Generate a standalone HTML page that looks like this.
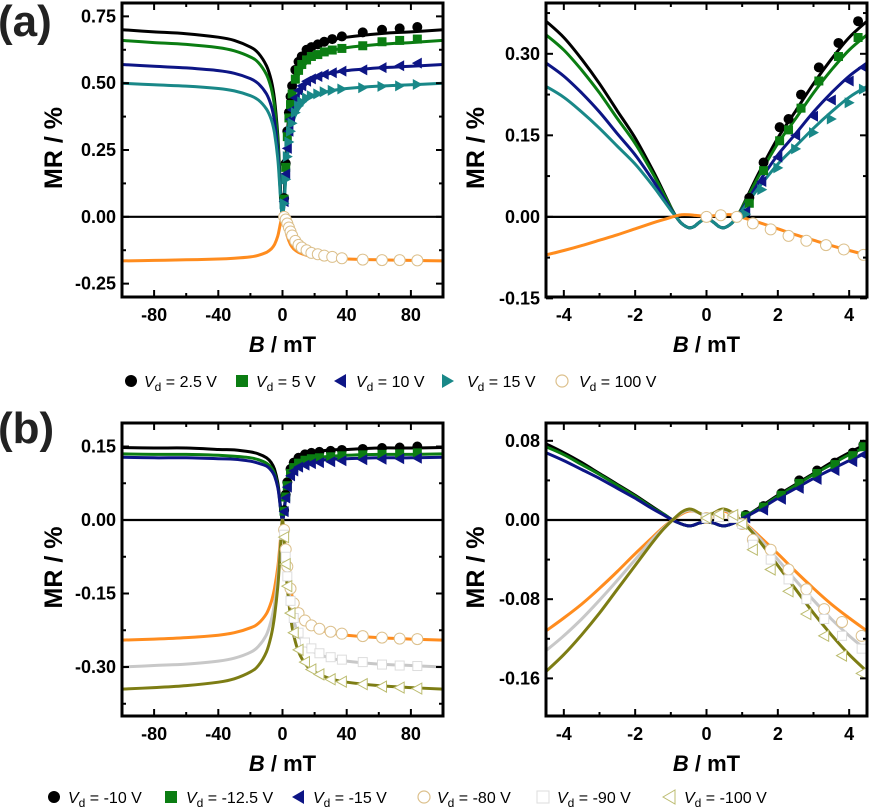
<!DOCTYPE html>
<html><head><meta charset="utf-8"><style>
html,body{margin:0;padding:0;background:#fff;}
svg{display:block;font-family:"Liberation Sans",Arial,sans-serif;}
</style></head><body>
<svg id="fig" width="879" height="809" viewBox="0 0 879 809" xmlns="http://www.w3.org/2000/svg">
<text x="-2" y="36" font-size="44" font-weight="bold" fill="#222">(a)</text>
<text x="-2" y="443" font-size="44" font-weight="bold" fill="#222">(b)</text>
<g id="legA" font-size="16">
 <circle cx="131" cy="381" r="6" fill="#000"/>
 <text x="144" y="387"><tspan font-style="italic">V</tspan><tspan font-size="12" dy="4">d</tspan><tspan dy="-4"> = 2.5 V</tspan></text>
 <rect x="236" y="375" width="12" height="12" fill="#0b7d12"/>
 <text x="256" y="387"><tspan font-style="italic">V</tspan><tspan font-size="12" dy="4">d</tspan><tspan dy="-4"> = 5 V</tspan></text>
 <polygon points="334,381 346,374 346,388" fill="#0d1585"/>
 <text x="356" y="387"><tspan font-style="italic">V</tspan><tspan font-size="12" dy="4">d</tspan><tspan dy="-4"> = 10 V</tspan></text>
 <polygon points="454,381 442,374 442,388" fill="#198888"/>
 <text x="467" y="387"><tspan font-style="italic">V</tspan><tspan font-size="12" dy="4">d</tspan><tspan dy="-4"> = 15 V</tspan></text>
 <circle cx="562" cy="381" r="6" fill="#fff" stroke="#dcc08c" stroke-width="1.2"/>
 <text x="579" y="387"><tspan font-style="italic">V</tspan><tspan font-size="12" dy="4">d</tspan><tspan dy="-4"> = 100 V</tspan></text>
</g>
<g id="legB" font-size="16">
 <circle cx="54" cy="797" r="6" fill="#000"/>
 <text x="68" y="803"><tspan font-style="italic">V</tspan><tspan font-size="12" dy="4">d</tspan><tspan dy="-4"> =  -10 V</tspan></text>
 <rect x="165" y="791" width="12" height="12" fill="#0b7d12"/>
 <text x="186" y="803"><tspan font-style="italic">V</tspan><tspan font-size="12" dy="4">d</tspan><tspan dy="-4"> = -12.5 V</tspan></text>
 <polygon points="292,797 304,790 304,804" fill="#0d1585"/>
 <text x="313" y="803"><tspan font-style="italic">V</tspan><tspan font-size="12" dy="4">d</tspan><tspan dy="-4"> = -15 V</tspan></text>
 <circle cx="424" cy="797" r="6" fill="#fff" stroke="#dcc08c" stroke-width="1.2"/>
 <text x="437" y="803"><tspan font-style="italic">V</tspan><tspan font-size="12" dy="4">d</tspan><tspan dy="-4"> = -80 V</tspan></text>
 <rect x="537" y="791" width="12" height="12" fill="#fff" stroke="#ddd"/>
 <text x="557" y="803"><tspan font-style="italic">V</tspan><tspan font-size="12" dy="4">d</tspan><tspan dy="-4"> = -90 V</tspan></text>
 <polygon points="663,797 675,790 675,804" fill="#fff" stroke="#bcbc70"/>
 <text x="684" y="803"><tspan font-style="italic">V</tspan><tspan font-size="12" dy="4">d</tspan><tspan dy="-4"> = -100 V</tspan></text>
</g>
</svg>
<script>
// ===== Panel a-left data =====
const aL_B = [-100,-80,-60,-40,-30,-20,-15,-10,-7,-5,-3,-2,-1,0];
const aL_black = [0.70,0.692,0.685,0.672,0.66,0.635,0.612,0.565,0.51,0.44,0.31,0.2,0.07,0];
const aL_green = [0.66,0.652,0.645,0.633,0.621,0.598,0.577,0.532,0.48,0.414,0.292,0.185,0.066,0];
const aL_blue = [0.57,0.563,0.557,0.547,0.537,0.517,0.498,0.46,0.415,0.358,0.252,0.16,0.057,0];
const aL_teal = [0.50,0.494,0.489,0.48,0.471,0.453,0.437,0.403,0.364,0.314,0.221,0.14,0.05,0];
const aL_orange = [-0.165,-0.163,-0.161,-0.158,-0.155,-0.15,-0.144,-0.133,-0.12,-0.104,-0.073,-0.046,-0.017,0];
const aL_mB = [1,2,3,4,5,6,8,10,12,15,18,22,26,31,37,50,62,73,84];
const aL_mBlack = [0.07,0.2,0.32,0.39,0.45,0.49,0.55,0.58,0.6,0.625,0.635,0.645,0.655,0.665,0.675,0.69,0.7,0.705,0.71];
const aL_mGreen = [0.066,0.185,0.3,0.37,0.42,0.46,0.515,0.548,0.57,0.587,0.6,0.607,0.617,0.624,0.63,0.64,0.655,0.66,0.665];
const aL_mBlue = [0.057,0.16,0.256,0.32,0.365,0.4,0.445,0.473,0.49,0.507,0.516,0.525,0.533,0.539,0.545,0.55,0.558,0.565,0.575];
const aL_mTeal = [0.05,0.14,0.225,0.28,0.32,0.35,0.39,0.415,0.43,0.445,0.453,0.46,0.468,0.473,0.478,0.483,0.488,0.49,0.495];
const aL_mOrange = [0.0,-0.01,-0.025,-0.04,-0.055,-0.07,-0.09,-0.105,-0.115,-0.125,-0.135,-0.14,-0.145,-0.15,-0.155,-0.16,-0.162,-0.162,-0.163];
// ===== Panel a-right data =====
const aR_B = [-4.5,-4,-3.5,-3,-2.5,-2,-1.5,-1.2,-1,-0.85,-0.7,-0.5,-0.35,-0.2,0];
const aR_black = [0.36,0.33,0.29,0.245,0.195,0.145,0.085,0.045,0.018,0,-0.012,-0.02,-0.018,-0.01,-0.003];
const aR_green = [0.335,0.307,0.27,0.228,0.181,0.135,0.079,0.042,0.017,0,-0.012,-0.02,-0.018,-0.01,-0.003];
const aR_blue = [0.283,0.259,0.228,0.193,0.153,0.114,0.067,0.035,0.014,0,-0.012,-0.02,-0.018,-0.01,-0.003];
const aR_teal = [0.24,0.22,0.193,0.163,0.13,0.097,0.057,0.03,0.012,0,-0.012,-0.02,-0.018,-0.01,-0.003];
const aR_orange = [-0.07,-0.062,-0.053,-0.043,-0.033,-0.022,-0.011,-0.005,-0.001,0.002,0.004,0.004,0.003,0.002,0.001];
const aR_mB1 = [1.2,1.6,2.05,2.3,2.65,3.15,3.7,4.25];
const aR_mBlack = [0.035,0.1,0.165,0.18,0.225,0.275,0.32,0.36];
const aR_mGreen = [0.025,0.085,0.14,0.16,0.2,0.25,0.295,0.33];
const aR_mB2 = [1.1,1.55,2.0,2.5,3.0,3.5,4.0,4.4];
const aR_mBlue = [0.01,0.065,0.11,0.15,0.185,0.215,0.25,0.275];
const aR_mTeal = [0.005,0.05,0.09,0.125,0.155,0.18,0.21,0.235];
const aR_mB3 = [0,0.4,0.85,1.3,1.8,2.3,2.8,3.35,3.85,4.4];
const aR_mOrange = [0,0.003,0,-0.012,-0.023,-0.035,-0.044,-0.052,-0.06,-0.07];
// ===== Panel b-left data =====
const bL_B = [-100,-80,-60,-40,-30,-20,-15,-10,-7,-5,-3,-2,-1,0];
const bL_black = [0.148,0.147,0.147,0.144,0.143,0.139,0.135,0.127,0.117,0.104,0.077,0.052,0.019,0];
const bL_green = [0.135,0.134,0.134,0.132,0.13,0.127,0.123,0.116,0.107,0.095,0.07,0.047,0.018,0];
const bL_blue = [0.128,0.127,0.127,0.125,0.124,0.12,0.116,0.11,0.101,0.09,0.067,0.045,0.017,0];
const bL_orange = [-0.245,-0.243,-0.24,-0.235,-0.23,-0.22,-0.211,-0.191,-0.167,-0.14,-0.098,-0.066,-0.029,0];
const bL_gray = [-0.30,-0.297,-0.294,-0.288,-0.282,-0.27,-0.258,-0.234,-0.204,-0.171,-0.12,-0.081,-0.036,0];
const bL_olive = [-0.345,-0.342,-0.338,-0.331,-0.324,-0.31,-0.297,-0.269,-0.235,-0.197,-0.138,-0.093,-0.041,0];
const bL_mB = [1,2,3,5,7,10,14,18,23,30,37,50,62,73,84];
const bL_mBlack = [0.02,0.052,0.077,0.104,0.117,0.127,0.134,0.137,0.139,0.141,0.143,0.145,0.147,0.148,0.15];
const bL_mGreen = [0.018,0.047,0.07,0.095,0.107,0.116,0.122,0.125,0.127,0.129,0.131,0.133,0.134,0.135,0.137];
const bL_mBlue = [0.017,0.045,0.067,0.09,0.1,0.108,0.112,0.115,0.117,0.119,0.121,0.123,0.124,0.125,0.126];
const bL_mOrange = [-0.02,-0.06,-0.095,-0.14,-0.17,-0.19,-0.205,-0.215,-0.222,-0.228,-0.232,-0.237,-0.24,-0.242,-0.243];
const bL_mGray = [-0.03,-0.075,-0.115,-0.165,-0.2,-0.23,-0.25,-0.262,-0.272,-0.28,-0.285,-0.29,-0.295,-0.297,-0.298];
const bL_mOlive = [-0.035,-0.09,-0.135,-0.19,-0.23,-0.265,-0.29,-0.305,-0.315,-0.325,-0.33,-0.335,-0.34,-0.342,-0.344];
// ===== Panel b-right data =====
const bR_B = [-4.5,-4,-3.5,-3,-2.5,-2,-1.5,-1.2,-0.95,-0.7,-0.5,-0.35,-0.2,0];
const bR_black = [0.077,0.068,0.058,0.047,0.036,0.025,0.013,0.006,0,-0.004,-0.006,-0.005,-0.003,-0.002];
const bR_green = [0.074,0.066,0.056,0.046,0.035,0.024,0.012,0.006,0,-0.004,-0.006,-0.005,-0.003,-0.002];
const bR_blue = [0.068,0.06,0.051,0.042,0.032,0.022,0.011,0.005,0,-0.004,-0.006,-0.005,-0.003,-0.002];
const bR_orange = [-0.112,-0.099,-0.085,-0.069,-0.052,-0.034,-0.017,-0.007,0,0.006,0.009,0.009,0.007,0.004];
const bR_gray = [-0.132,-0.117,-0.1,-0.081,-0.061,-0.04,-0.019,-0.008,0,0.007,0.01,0.009,0.007,0.004];
const bR_olive = [-0.153,-0.136,-0.116,-0.094,-0.07,-0.046,-0.022,-0.009,0,0.008,0.011,0.01,0.007,0.004];
const bR_mB1 = [1.1,1.6,2.1,2.6,3.1,3.6,4.1,4.4];
const bR_mBlack = [0.005,0.014,0.027,0.04,0.05,0.058,0.068,0.076];
const bR_mGreen = [0.004,0.013,0.025,0.037,0.047,0.056,0.065,0.074];
const bR_mBlue = [0.002,0.01,0.021,0.032,0.041,0.05,0.059,0.066];
const bR_mB2 = [0,0.35,0.75,1.0,1.3,1.8,2.3,2.8,3.3,3.8,4.35];
const bR_mOrange = [0.002,0.004,0.003,-0.004,-0.02,-0.03,-0.05,-0.07,-0.09,-0.103,-0.117];
const bR_mGray = [0.002,0.003,0.002,-0.004,-0.025,-0.04,-0.06,-0.08,-0.1,-0.117,-0.13];
const bR_mOlive = [0.002,0.006,0.005,-0.004,-0.03,-0.05,-0.072,-0.095,-0.117,-0.137,-0.155];
// tick labels
const aL_xt = [-80,-40,0,40,80];
const aL_yt = [0.75,0.50,0.25,0.00,-0.25];
const aR_xt = [-4,-2,0,2,4];
const aR_yt = [0.30,0.15,0.00,-0.15];
const bL_yt = [0.15,0.00,-0.15,-0.30];
const bR_yt = [0.08,0.00,-0.08,-0.16];

const NS='http://www.w3.org/2000/svg';
const svg=document.getElementById('fig');
const C={black:'#000',green:'#0b7d12',blue:'#0d1585',teal:'#198888',orange:'#ff8c1e',gray:'#c8c8c8',olive:'#7d7d14'};
function el(tag,attrs,parent){const e=document.createElementNS(NS,tag);for(const k in attrs)e.setAttribute(k,attrs[k]);(parent||svg).appendChild(e);return e;}
function mirror(B,V){const xs=B.slice(),ys=V.slice();for(let i=B.length-2;i>=0;i--){xs.push(-B[i]);ys.push(V[i]);}return [xs,ys];}
function smooth(pts){let d='M'+pts[0][0].toFixed(1)+','+pts[0][1].toFixed(1);for(let i=0;i<pts.length-1;i++){const p0=pts[i-1]||pts[i],p1=pts[i],p2=pts[i+1],p3=pts[i+2]||p2;const c1=[p1[0]+(p2[0]-p0[0])/6,p1[1]+(p2[1]-p0[1])/6],c2=[p2[0]-(p3[0]-p1[0])/6,p2[1]-(p3[1]-p1[1])/6];d+=' C'+c1[0].toFixed(1)+','+c1[1].toFixed(1)+' '+c2[0].toFixed(1)+','+c2[1].toFixed(1)+' '+p2[0].toFixed(1)+','+p2[1].toFixed(1);}return d;}

function panel(cfg){
 const g=el('g',{});
 
 
 const sx=v=>cfg.x0+(v-cfg.xmin)/(cfg.xmax-cfg.xmin)*(cfg.x1-cfg.x0);
 const sy=v=>cfg.y1-(v-cfg.ymin)/(cfg.ymax-cfg.ymin)*(cfg.y1-cfg.y0);
 const clip=el('clipPath',{id:cfg.name+'-clip'},g);
 el('rect',{x:cfg.x0,y:cfg.y0,width:cfg.x1-cfg.x0,height:cfg.y1-cfg.y0},clip);
 const zl=el('line',{x1:cfg.x0,x2:cfg.x1,y1:sy(0),y2:sy(0),stroke:'#000','stroke-width':2.2},g);
 
 
 const plot=el('g',{'clip-path':'url(#'+cfg.name+'-clip)'},g);
 cfg.curves.forEach(c=>{const [xs,ys]=mirror(c.B,c.v);const pts=xs.map((x,i)=>[sx(x),sy(ys[i])]);
  const p=el('path',{d:smooth(pts),fill:'none',stroke:C[c.col],'stroke-width':3},plot);
  
  });
 cfg.markers.forEach(m=>{const mg=el('g',{},plot);
  
  
  m.B.forEach((b,i)=>{const X=sx(b),Y=sy(m.v[i]);let s;
   if(m.shape==='circle')s=el('circle',{cx:X,cy:Y,r:m.r||5,fill:m.fill,stroke:m.stroke||'none','stroke-width':1},mg);
   else if(m.shape==='square')s=el('rect',{x:X-4.5,y:Y-4.5,width:9,height:9,fill:m.fill,stroke:m.stroke||'none','stroke-width':1},mg);
   else if(m.shape==='left')s=el('polygon',{points:(X-5.5)+','+Y+' '+(X+4.5)+','+(Y-5.5)+' '+(X+4.5)+','+(Y+5.5),fill:m.fill,stroke:m.stroke||'none','stroke-width':1},mg);
   else s=el('polygon',{points:(X+5.5)+','+Y+' '+(X-4.5)+','+(Y-5.5)+' '+(X-4.5)+','+(Y+5.5),fill:m.fill,stroke:m.stroke||'none','stroke-width':1},mg);
   
   });});
 const tk=el('g',{stroke:'#000','stroke-width':2},g);
 
 
 for(let v=cfg.xMinorStart;v<=cfg.xmax+1e-9;v+=cfg.xMinor){const X=sx(v);const major=Math.abs(Math.round(v/cfg.xMajor)*cfg.xMajor-v)<1e-6;const L=major?7:4;
  el('line',{x1:X,x2:X,y1:cfg.y1,y2:cfg.y1-L},tk);el('line',{x1:X,x2:X,y1:cfg.y0,y2:cfg.y0+L},tk);}
 for(let v=cfg.yMinorStart;v<=cfg.ymax+1e-9;v+=cfg.yMinor){const Y=sy(v);const major=Math.abs(Math.round(v/cfg.yMajor)*cfg.yMajor-v)<1e-6;const L=major?7:4;
  el('line',{x1:cfg.x0,x2:cfg.x0+L,y1:Y,y2:Y},tk);el('line',{x1:cfg.x1,x2:cfg.x1-L,y1:Y,y2:Y},tk);}
 const fr=el('rect',{x:cfg.x0,y:cfg.y0,width:cfg.x1-cfg.x0,height:cfg.y1-cfg.y0,fill:'none',stroke:'#000','stroke-width':3},g);
 
 
 cfg.xt.forEach(v=>{const t=el('text',{x:sx(v),y:cfg.y1+24,'text-anchor':'middle','font-size':18,'font-weight':'bold'},g);t.textContent=String(v);
  
  });
 cfg.yt.forEach(v=>{const t=el('text',{x:cfg.x0-6,y:sy(v)+6,'text-anchor':'end','font-size':18,'font-weight':'bold'},g);t.textContent=v.toFixed(2);
  
  });
 const xt=el('text',{x:(cfg.x0+cfg.x1)/2,y:cfg.y1+55,'text-anchor':'middle','font-size':22,'font-weight':'bold'},g);
 xt.innerHTML='<tspan font-style="italic">B</tspan> / mT';
 
 
 const yx=cfg.yTitleX, yy=(cfg.y0+cfg.y1)/2-2;
 const ytl=el('text',{x:yx,y:yy,'text-anchor':'middle','font-size':25,'font-weight':'bold',transform:'rotate(-90 '+yx+' '+yy+')'},g);
 ytl.textContent='MR / %';
 
 
}
const openC={shape:'circle',fill:'#fff',stroke:'#dcc08c',r:5.5};
panel({name:'panel-a-left',x0:122,x1:443,y0:3,y1:297,xmin:-100,xmax:100,ymin:-0.3,ymax:0.8,
 xMajor:40,xMinor:20,xMinorStart:-100,yMajor:0.25,yMinor:0.125,yMinorStart:-0.25,xt:aL_xt,yt:aL_yt,yTitleX:62,
 curves:[{id:'2-5v',B:aL_B,v:aL_black,col:'black'},{id:'5v',B:aL_B,v:aL_green,col:'green'},{id:'10v',B:aL_B,v:aL_blue,col:'blue'},{id:'15v',B:aL_B,v:aL_teal,col:'teal'},{id:'100v',B:aL_B,v:aL_orange,col:'orange'}],
 markers:[{id:'2-5v',B:aL_mB,v:aL_mBlack,shape:'circle',fill:C.black},{id:'5v',B:aL_mB,v:aL_mGreen,shape:'square',fill:C.green},{id:'10v',B:aL_mB,v:aL_mBlue,shape:'left',fill:C.blue},{id:'15v',B:aL_mB,v:aL_mTeal,shape:'right',fill:C.teal},Object.assign({id:'100v',B:aL_mB,v:aL_mOrange},openC)]});
panel({name:'panel-a-right',x0:546,x1:867,y0:3,y1:297,xmin:-4.5,xmax:4.5,ymin:-0.1475,ymax:0.3935,
 xMajor:2,xMinor:1,xMinorStart:-4,yMajor:0.15,yMinor:0.075,yMinorStart:-0.15,xt:aR_xt,yt:aR_yt,yTitleX:484,
 curves:[{id:'2-5v',B:aR_B,v:aR_black,col:'black'},{id:'5v',B:aR_B,v:aR_green,col:'green'},{id:'10v',B:aR_B,v:aR_blue,col:'blue'},{id:'15v',B:aR_B,v:aR_teal,col:'teal'},{id:'100v',B:aR_B,v:aR_orange,col:'orange'}],
 markers:[{id:'2-5v',B:aR_mB1,v:aR_mBlack,shape:'circle',fill:C.black},{id:'5v',B:aR_mB1,v:aR_mGreen,shape:'square',fill:C.green},{id:'10v',B:aR_mB2,v:aR_mBlue,shape:'left',fill:C.blue},{id:'15v',B:aR_mB2,v:aR_mTeal,shape:'right',fill:C.teal},Object.assign({id:'100v',B:aR_mB3,v:aR_mOrange},openC)]});
panel({name:'panel-b-left',x0:122,x1:443,y0:423,y1:716,xmin:-100,xmax:100,ymin:-0.4,ymax:0.198,
 xMajor:40,xMinor:20,xMinorStart:-100,yMajor:0.15,yMinor:0.075,yMinorStart:-0.375,xt:aL_xt,yt:bL_yt,yTitleX:62,
 curves:[{id:'m10v',B:bL_B,v:bL_black,col:'black'},{id:'m12-5v',B:bL_B,v:bL_green,col:'green'},{id:'m15v',B:bL_B,v:bL_blue,col:'blue'},{id:'m80v',B:bL_B,v:bL_orange,col:'orange'},{id:'m90v',B:bL_B,v:bL_gray,col:'gray'},{id:'m100v',B:bL_B,v:bL_olive,col:'olive'}],
 markers:[{id:'m10v',B:bL_mB,v:bL_mBlack,shape:'circle',fill:C.black},{id:'m12-5v',B:bL_mB,v:bL_mGreen,shape:'square',fill:C.green},{id:'m15v',B:bL_mB,v:bL_mBlue,shape:'left',fill:C.blue},Object.assign({id:'m80v',B:bL_mB,v:bL_mOrange},openC),{id:'m90v',B:bL_mB,v:bL_mGray,shape:'square',fill:'#fff',stroke:'#ddd'},{id:'m100v',B:bL_mB,v:bL_mOlive,shape:'left',fill:'#fff',stroke:'#bcbc70'}]});
panel({name:'panel-b-right',x0:546,x1:867,y0:423,y1:716,xmin:-4.5,xmax:4.5,ymin:-0.198,ymax:0.098,
 xMajor:2,xMinor:1,xMinorStart:-4,yMajor:0.08,yMinor:0.04,yMinorStart:-0.16,xt:aR_xt,yt:bR_yt,yTitleX:484,
 curves:[{id:'m10v',B:bR_B,v:bR_black,col:'black'},{id:'m12-5v',B:bR_B,v:bR_green,col:'green'},{id:'m15v',B:bR_B,v:bR_blue,col:'blue'},{id:'m80v',B:bR_B,v:bR_orange,col:'orange'},{id:'m90v',B:bR_B,v:bR_gray,col:'gray'},{id:'m100v',B:bR_B,v:bR_olive,col:'olive'}],
 markers:[{id:'m10v',B:bR_mB1,v:bR_mBlack,shape:'circle',fill:C.black},{id:'m12-5v',B:bR_mB1,v:bR_mGreen,shape:'square',fill:C.green},{id:'m15v',B:bR_mB1,v:bR_mBlue,shape:'left',fill:C.blue},Object.assign({id:'m80v',B:bR_mB2,v:bR_mOrange},openC),{id:'m90v',B:bR_mB2,v:bR_mGray,shape:'square',fill:'#fff',stroke:'#ddd'},{id:'m100v',B:bR_mB2,v:bR_mOlive,shape:'left',fill:'#fff',stroke:'#bcbc70'}]});
</script>
</body></html>
